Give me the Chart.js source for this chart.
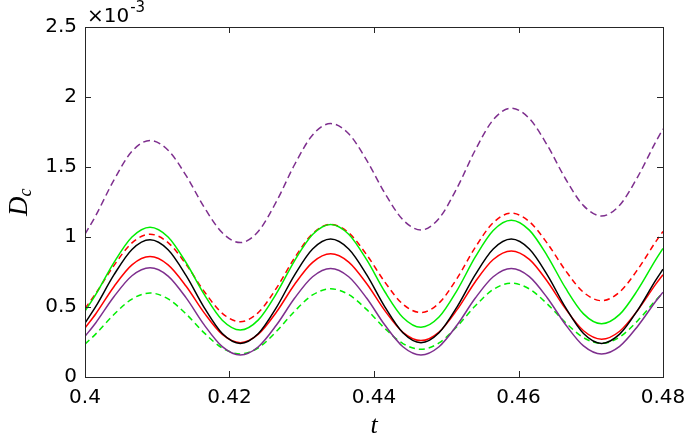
<!DOCTYPE html>
<html><head><meta charset="utf-8">
<script src="https://cdn.jsdelivr.net/npm/chart.js@4"></script>
<style>html,body{margin:0;padding:0;background:#fff}#wrap{width:685px;height:437px}</style>
</head><body><div id="wrap"><canvas id="c" width="685" height="437"></canvas></div>
<script>
// time samples (t)
const times = [0.4,0.4015,0.404,0.4065,0.409,0.4115,0.414,0.4165,0.419,0.4215,
  0.424,0.4265,0.429,0.4315,0.434,0.4365,0.439,0.4415,0.444,0.4465,
  0.449,0.4515,0.454,0.4565,0.459,0.4615,0.464,0.4665,0.469,0.4715,
  0.474,0.4765,0.479,0.48];
// D_c values in units of 1e-3
const blackSolid = [0.385,0.504,0.729,0.911,0.98,0.909,0.724,0.496,0.311,0.24,
  0.311,0.497,0.728,0.914,0.985,0.914,0.729,0.501,0.316,0.245,
  0.316,0.501,0.729,0.914,0.985,0.914,0.728,0.497,0.311,0.24,
  0.306,0.478,0.692,0.77];
const redSolid = [0.35,0.452,0.645,0.801,0.86,0.801,0.648,0.458,0.304,0.245,
  0.306,0.464,0.661,0.819,0.88,0.821,0.666,0.474,0.319,0.26,
  0.321,0.481,0.679,0.839,0.90,0.84,0.682,0.488,0.33,0.27,
  0.327,0.477,0.663,0.731];
const greenSolid = [0.47,0.59,0.817,1.0,1.07,1.0,0.816,0.59,0.406,0.336,
  0.408,0.597,0.83,1.018,1.09,1.02,0.836,0.609,0.425,0.355,
  0.428,0.619,0.856,1.047,1.12,1.049,0.864,0.636,0.451,0.38,
  0.447,0.622,0.838,0.918];
const purpleSolid = [0.29,0.388,0.573,0.723,0.78,0.721,0.565,0.372,0.217,0.157,
  0.216,0.371,0.562,0.716,0.775,0.716,0.562,0.371,0.216,0.157,
  0.216,0.371,0.562,0.716,0.775,0.717,0.564,0.375,0.222,0.164,
  0.219,0.363,0.541,0.606];
const redDashed = [0.49,0.597,0.796,0.958,1.02,0.96,0.804,0.611,0.455,0.395,
  0.461,0.635,0.85,1.024,1.09,1.03,0.872,0.678,0.52,0.46,
  0.528,0.705,0.925,1.102,1.17,1.11,0.954,0.761,0.605,0.545,
  0.607,0.768,0.967,1.04];
const greenDashed = [0.235,0.308,0.446,0.557,0.6,0.558,0.45,0.315,0.207,0.165,
  0.209,0.326,0.469,0.586,0.63,0.589,0.481,0.347,0.239,0.198,
  0.243,0.361,0.507,0.625,0.67,0.629,0.521,0.389,0.281,0.24,
  0.285,0.402,0.548,0.601];
const purpleDashed = [1.02,1.154,1.407,1.612,1.69,1.62,1.438,1.212,1.03,0.96,
  1.041,1.254,1.516,1.729,1.81,1.737,1.547,1.313,1.123,1.05,
  1.133,1.351,1.619,1.837,1.92,1.846,1.654,1.416,1.224,1.15,
  1.227,1.43,1.68,1.772];
const xTickLabels = ['0.4','0.42','0.44','0.46','0.48'];
const yTickLabels = ['0','0.5','1','1.5','2','2.5'];

const pts = arr => arr.map((v,i)=>({x:times[i], y:v}));
const ds = (data,color,dash) => ({data:pts(data), borderColor:color, borderWidth:1.5,
  borderDash:dash||[], pointRadius:0, fill:false, cubicInterpolationMode:'monotone'});

const GREEN='#00ee00', RED='#ff0000', PURPLE='#7e2f8e', BLACK='#000000';
const SANS='"DejaVu Sans", "Liberation Sans", Arial, sans-serif';
const SERIF='"Liberation Serif", "Times New Roman", serif';

const framePlugin = {
  id:'frame',
  afterDatasetsDraw(chart){
    const {ctx, chartArea:a, scales:{x,y}} = chart;
    ctx.save();
    ctx.strokeStyle='#262626'; ctx.lineWidth=1;
    ctx.strokeRect(a.left+0.5, a.top+0.5, a.right-a.left, a.bottom-a.top);
    const L=6;
    ctx.beginPath();
    x.ticks.forEach(t=>{const p=Math.round(x.getPixelForValue(t.value))+0.5;
      ctx.moveTo(p,a.bottom); ctx.lineTo(p,a.bottom-L);
      ctx.moveTo(p,a.top); ctx.lineTo(p,a.top+L);});
    y.ticks.forEach(t=>{const p=Math.round(y.getPixelForValue(t.value))+0.5;
      ctx.moveTo(a.left,p); ctx.lineTo(a.left+L,p);
      ctx.moveTo(a.right,p); ctx.lineTo(a.right-L,p);});
    ctx.stroke();
    // exponent label
    ctx.fillStyle='#000';
    ctx.textBaseline='alphabetic'; ctx.textAlign='left';
    ctx.font='20px '+SANS;
    ctx.fillText('\u00d710', a.left+2, 22);
    const w = ctx.measureText('\u00d710').width;
    ctx.font='15px '+SANS;
    ctx.fillText('-3', a.left+3+w, 12);
    // x title
    ctx.font='italic 26px '+SERIF;
    ctx.textAlign='center';
    ctx.fillText('t', (a.left+a.right)/2, 433);
    // y title
    ctx.save();
    ctx.translate(27, 216); ctx.rotate(-Math.PI/2);
    ctx.textAlign='left';
    ctx.font='italic 27px '+SERIF;
    ctx.fillText('D', 0, 0);
    const dw = ctx.measureText('D').width;
    ctx.font='italic 18px '+SERIF;
    ctx.fillText('c', dw, 4);
    ctx.restore();
    ctx.restore();
  }
};

new Chart(document.getElementById('c'), {
  type:'line',
  data:{datasets:[
    ds(blackSolid,BLACK), ds(redSolid,RED), ds(greenSolid,GREEN), ds(purpleSolid,PURPLE),
    ds(redDashed,RED,[6,4]), ds(greenDashed,GREEN,[6,4]), ds(purpleDashed,PURPLE,[7,4])
  ]},
  options:{
    responsive:false, animation:false,
    layout:{padding:{left:0, top:27, right:22, bottom:0}},
    plugins:{legend:{display:false}, tooltip:{enabled:false}},
    scales:{
      x:{type:'linear', min:0.4, max:0.48,
        ticks:{stepSize:0.02, padding:9, color:'#000', maxRotation:0,
          font:{family:SANS, size:20},
          callback:(v,i)=>xTickLabels[i]},
        grid:{display:false, drawTicks:false}, border:{display:false},
        afterFit(s){s.height=60; s.paddingRight=0;}},
      y:{type:'linear', min:0, max:2.5,
        ticks:{stepSize:0.5, padding:8, color:'#000',
          font:{family:SANS, size:20},
          callback:(v,i)=>yTickLabels[i]},
        grid:{display:false, drawTicks:false}, border:{display:false},
        afterFit(s){s.width=85;}}
    }
  },
  plugins:[framePlugin]
});
</script></body></html>
